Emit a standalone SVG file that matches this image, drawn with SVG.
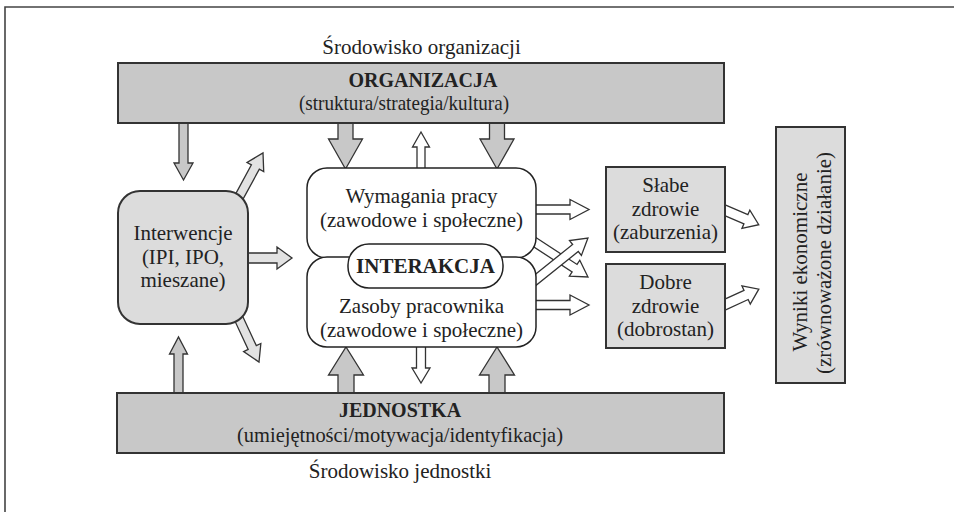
<svg xmlns="http://www.w3.org/2000/svg" width="954" height="512" viewBox="0 0 954 512">
<style>
.bd{fill:#c8c8c8;stroke:#333;stroke-width:2}
.bl{fill:#dcdcdc;stroke:#333;stroke-width:2}
.bw{fill:#fff;stroke:#222;stroke-width:1.5}
.ag{fill:#c8c8c8;stroke:#333;stroke-width:1.3;stroke-linejoin:miter}
.al{fill:#e2e2e2;stroke:#333;stroke-width:1.3}
.aw{fill:#fff;stroke:#333;stroke-width:1.3}
text{font-family:"Liberation Serif","Times New Roman",serif;font-size:21px;fill:#222;text-anchor:middle}
.b{font-weight:bold;font-size:20px}
</style>
<rect width="954" height="512" fill="#fff"/>
<path d="M5,512 V7 H954" fill="none" stroke="#444" stroke-width="1.6"/>
<g id="connectors">
<path class="ag" transform="translate(183.5,122) rotate(90)" d="M0,-4.5 H41 V-9.5 L58,0 L41,9.5 V4.5 H0 Z"/>
<path class="ag" transform="translate(178.5,394) rotate(-90)" d="M0,-4.5 H40 V-9 L57,0 L40,9 V4.5 H0 Z"/>
<path class="al" transform="translate(246,258) rotate(0)" d="M0,-5 H31 V-11 L46,0 L31,11 V5 H0 Z"/>
<path class="al" transform="translate(238,199) rotate(-61.5)" d="M0,-4.5 H36.4 V-9.5 L52.4,0 L36.4,9.5 V4.5 H0 Z"/>
<path class="al" transform="translate(238,317) rotate(65)" d="M0,-4.5 H33.7 V-9.5 L49.7,0 L33.7,9.5 V4.5 H0 Z"/>
<path class="ag" transform="translate(345.5,122) rotate(90)" d="M0,-7.5 H17 V-17 L47,0 L17,17 V7.5 H0 Z"/>
<path class="ag" transform="translate(497,122) rotate(90)" d="M0,-7.5 H17 V-17 L47,0 L17,17 V7.5 H0 Z"/>
<path class="aw" transform="translate(421,169) rotate(-90)" d="M0,-4 H22 V-8.5 L37,0 L22,8.5 V4 H0 Z"/>
<path class="ag" transform="translate(346,394) rotate(-90)" d="M0,-8 H19 V-17.5 L47,0 L19,17.5 V8 H0 Z"/>
<path class="ag" transform="translate(497,394) rotate(-90)" d="M0,-8 H19 V-17.5 L47,0 L19,17.5 V8 H0 Z"/>
<path class="aw" transform="translate(421,346) rotate(90)" d="M0,-4.5 H22 V-9 L37,0 L22,9 V4.5 H0 Z"/>
<path class="aw" transform="translate(534,209.5) rotate(0)" d="M0,-4.5 H36 V-10 L55,0 L36,10 V4.5 H0 Z"/>
<path class="aw" transform="translate(534,305) rotate(0)" d="M0,-4.5 H36 V-10 L55,0 L36,10 V4.5 H0 Z"/>
<path class="aw" transform="translate(533,241) rotate(33.2)" d="M0,-4.5 H49.7 V-9.5 L65.7,0 L49.7,9.5 V4.5 H0 Z"/>
<path class="aw" transform="translate(533,282) rotate(-38.7)" d="M0,-4.5 H54.4 V-9.5 L70.4,0 L54.4,9.5 V4.5 H0 Z"/>
<path class="aw" transform="translate(722,209) rotate(23.2)" d="M0,-5 H26 V-10 L40,0 L26,10 V5 H0 Z"/>
<path class="aw" transform="translate(722,306) rotate(-24.6)" d="M0,-5 H26.5 V-10 L40.5,0 L26.5,10 V5 H0 Z"/>
</g>
<text x="421.5" y="54">Środowisko organizacji</text>
<g id="organizacja">
<rect class="bd" x="118" y="63" width="606" height="60"/>
<text class="b" x="423" y="87">ORGANIZACJA</text>
<text x="404" y="110" textLength="210" lengthAdjust="spacingAndGlyphs">(struktura/strategia/kultura)</text>
</g>
<g id="jednostka">
<rect class="bd" x="117" y="393" width="607" height="60"/>
<text class="b" x="400" y="417">JEDNOSTKA</text>
<text x="400" y="442" textLength="326" lengthAdjust="spacingAndGlyphs">(umiejętności/motywacja/identyfikacja)</text>
</g>
<text x="400" y="478">Środowisko jednostki</text>
<g id="interwencje">
<rect class="bl" x="118" y="191" width="130" height="133" rx="22"/>
<text x="183" y="240">Interwencje</text>
<text x="183" y="264">(IPI, IPO,</text>
<text x="183" y="287">mieszane)</text>
</g>
<g id="wymagania">
<rect class="bw" x="307" y="168" width="229" height="90" rx="20"/>
<text x="421.5" y="203">Wymagania pracy</text>
<text x="421.5" y="227">(zawodowe i społeczne)</text>
</g>
<g id="zasoby">
<rect class="bw" x="307" y="257" width="229" height="90" rx="20"/>
<text x="421.5" y="313">Zasoby pracownika</text>
<text x="421.5" y="337">(zawodowe i społeczne)</text>
</g>
<g id="interakcja">
<rect class="bw" x="348" y="244" width="155" height="44" rx="21"/>
<text class="b" x="425.5" y="273" style="font-size:21px">INTERAKCJA</text>
</g>
<g id="slabe">
<rect class="bl" x="606" y="167" width="119" height="85"/>
<text x="665.5" y="192">Słabe</text>
<text x="665.5" y="216">zdrowie</text>
<text x="665.5" y="239">(zaburzenia)</text>
</g>
<g id="dobre">
<rect class="bl" x="606" y="264" width="119" height="84"/>
<text x="665.5" y="289">Dobre</text>
<text x="665.5" y="313">zdrowie</text>
<text x="665.5" y="336">(dobrostan)</text>
</g>
<g id="wyniki">
<rect class="bl" x="776" y="127" width="69" height="256"/>
<text transform="translate(807,262) rotate(-90)">Wyniki ekonomiczne</text>
<text transform="translate(831,263) rotate(-90)">(zrównoważone działanie)</text>
</g>
</svg>
